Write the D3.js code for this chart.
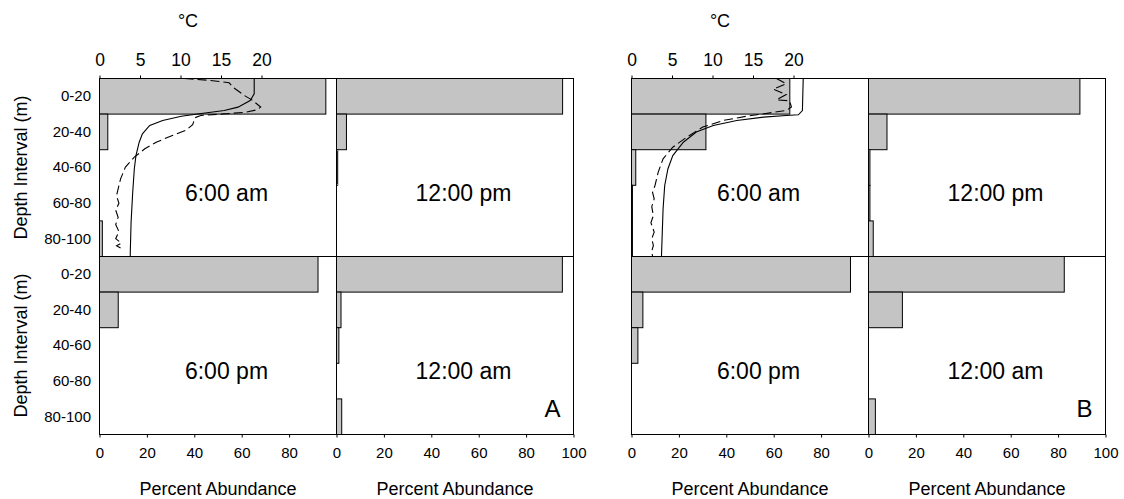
<!DOCTYPE html>
<html><head><meta charset="utf-8">
<script src="https://cdn.jsdelivr.net/npm/d3@7"></script>
<style>
body{margin:0;background:#fff}
svg{display:block}
text{font-family:"Liberation Sans",Arial,Helvetica,sans-serif;fill:#000}
</style>
</head><body>
<svg id="c" width="1124" height="499"></svg>
<script>
// ---- data ----
const depthBins = ["0-20", "20-40", "40-60", "60-80", "80-100"];
const pctTicksLeft = [0, 20, 40, 60, 80];
const pctTicksRight = [0, 20, 40, 60, 80, 100];
const tempTicks = [0, 5, 10, 15, 20];
const timeLabels = ["6:00 am", "12:00 pm", "6:00 pm", "12:00 am"];
const lakeLabels = ["A", "B"];

// percent abundance by depth bin
const a_6am  = [95.5, 3.5, 0, 0, 1.2];
const a_12pm = [95.4, 4.2, 0.5, 0, 0];
const a_6pm  = [92.2, 7.9, 0, 0, 0];
const a_12am = [95.3, 1.9, 1.0, 0, 2.2];
const b_6am  = [66.8, 31.4, 1.8, 0.4, 0.4];
const b_12pm = [89.2, 7.8, 0.6, 0.6, 2.0];
const b_6pm  = [92.4, 4.8, 2.7, 0, 0];
const b_12am = [82.6, 14.3, 0, 0, 2.9];

// temperature profiles [depth (m), temperature (degC)] at 6:00 am
const aSolid = [[0,19.1],[8.6,19.1],[12.4,18.6],[16.1,17.1],[18,15.4],[19.9,12.1],[21.2,10.1],[23.6,7.8],[25,7.0],[26.4,6.2],[31.1,5.3],[35.8,4.9],[43.3,4.5],[50.7,4.3],[63.9,4.1],[80.7,3.9],[97.6,3.8],[100,3.8]];
const aDashed = [[0,10.5],[1,13.5],[2.4,16],[5,16.5],[9.6,17.9],[12,18.8],[16,19.9],[17.5,19.5],[19,18],[20,15],[20.8,12.5],[22,11.8],[26,11.5],[29,10.7],[32,9.0],[35.8,7.0],[39.5,5.6],[44.2,4.3],[49.8,3.2],[56.4,2.6],[62,2.3],[66,2.1],[70,2.4],[74,2.0],[78,2.3],[82,2.0],[86,2.4],[90,2.0],[92.5,2.7],[94,2.1],[96,2.9]];
const bSolid = [[0,21.2],[18,21.1],[20.4,20.6],[20.8,19.1],[21.7,16.3],[23.6,13.0],[26.4,10.1],[30.1,8.0],[35.8,6.4],[43.3,5.1],[50.7,4.5],[60.1,4.1],[73.2,3.9],[86.3,3.8],[100,3.7]];
const bDashed = [[0,17.9],[3,19.1],[6,17.5],[9,19.1],[12,17.9],[12.5,19.5],[16,19.75],[18,19.1],[19.3,17.1],[21.2,14.2],[23.6,11.3],[27.3,8.8],[33,6.8],[38.6,5.1],[45.1,3.9],[52.6,3.3],[60.1,2.9],[64,2.6],[67.6,2.8],[72,2.5],[77,2.7],[81,2.4],[86.3,2.8],[90,2.5],[93.8,2.7],[97,2.5],[100,2.6]];

// ---- layout ----
const svg = d3.select("#c");
const W = 237, H = 178;
const groupLeft = [99.5, 631.5];
const rowTop = [78.5, 256.5];
const FILL = "#c4c4c4";

const x = d3.scaleLinear().domain([0, 100]).range([0, W]);
const y = d3.scaleBand().domain(depthBins).range([0, H]).padding(0);
const tX = d3.scaleLinear().domain([0, W / 8.1]).range([0, W]);
const dY = d3.scaleLinear().domain([0, 100]).range([0, H]);
const line = d3.line().x(d => tX(d[1])).y(d => dY(d[0]));

const groups = [
  {vals: [a_6am, a_12pm, a_6pm, a_12am], solid: aSolid, dashed: aDashed, depthAxis: true},
  {vals: [b_6am, b_12pm, b_6pm, b_12am], solid: bSolid, dashed: bDashed, depthAxis: false}
];

groups.forEach((grp, gi) => {
  const gx = groupLeft[gi];
  // degC label
  svg.append("text").attr("x", gx + 88.5).attr("y", 26.5)
    .attr("text-anchor", "middle").style("font-size", "18px").text("°C");

  grp.vals.forEach((vals, pi) => {
    const row = Math.floor(pi / 2), col = pi % 2;
    const px = gx + col * W, py = rowTop[row];
    const g = svg.append("g").attr("transform", `translate(${px},${py})`);

    // bars
    g.selectAll("rect.bar").data(vals.map((v, i) => ({v, k: depthBins[i]})).filter(d => d.v > 0))
      .join("rect").attr("class", "bar")
      .attr("x", 0).attr("y", d => y(d.k))
      .attr("width", d => x(d.v)).attr("height", y.bandwidth())
      .attr("fill", FILL).attr("stroke", "#000").attr("stroke-width", 1);

    // temperature profiles
    if (row === 0 && col === 0) {
      g.append("path").datum(grp.solid).attr("d", line)
        .attr("fill", "none").attr("stroke", "#000").attr("stroke-width", 1.1);
      g.append("path").datum(grp.dashed).attr("d", line)
        .attr("fill", "none").attr("stroke", "#000").attr("stroke-width", 1.1)
        .attr("stroke-dasharray", "9,4");
      const ta = g.append("g").call(d3.axisTop(tX).tickValues(tempTicks).tickSize(3).tickPadding(10));
      ta.select(".domain").remove();
      ta.selectAll("text").style("font-size", "17.5px").attr("font-family", null);
    }

    // panel frame
    g.append("rect").attr("x", 0).attr("y", 0).attr("width", W).attr("height", H)
      .attr("fill", "none").attr("stroke", "#000").attr("stroke-width", 1);

    // depth axis
    if (col === 0 && grp.depthAxis) {
      const la = g.append("g").call(d3.axisLeft(y).tickSize(0).tickPadding(8.5));
      la.select(".domain").remove();
      la.selectAll("text").style("font-size", "15px").attr("font-family", null);
      svg.append("text")
        .attr("transform", `translate(26.5,${py + H / 2}) rotate(-90)`)
        .attr("text-anchor", "middle").style("font-size", "18px").text("Depth Interval (m)");
    }

    // percent axis
    if (row === 1) {
      const ba = g.append("g").attr("transform", `translate(0,${H})`)
        .call(d3.axisBottom(x).tickValues(col === 0 ? pctTicksLeft : pctTicksRight).tickSize(3).tickPadding(10));
      ba.select(".domain").remove();
      ba.selectAll("text").style("font-size", "15px").attr("font-family", null);
      svg.append("text").attr("x", px + W / 2).attr("y", 494.5)
        .attr("text-anchor", "middle").style("font-size", "18px").text("Percent Abundance");
    }

    // time label
    g.append("text").attr("x", W / 2 + 8.5).attr("y", 122)
      .attr("text-anchor", "middle").style("font-size", "23px").text(timeLabels[pi]);

    // lake label
    if (pi === 3) {
      g.append("text").attr("x", W - 13).attr("y", 160.5)
        .attr("text-anchor", "end").style("font-size", "24px").text(lakeLabels[gi]);
    }
  });
});
</script>
</body></html>
